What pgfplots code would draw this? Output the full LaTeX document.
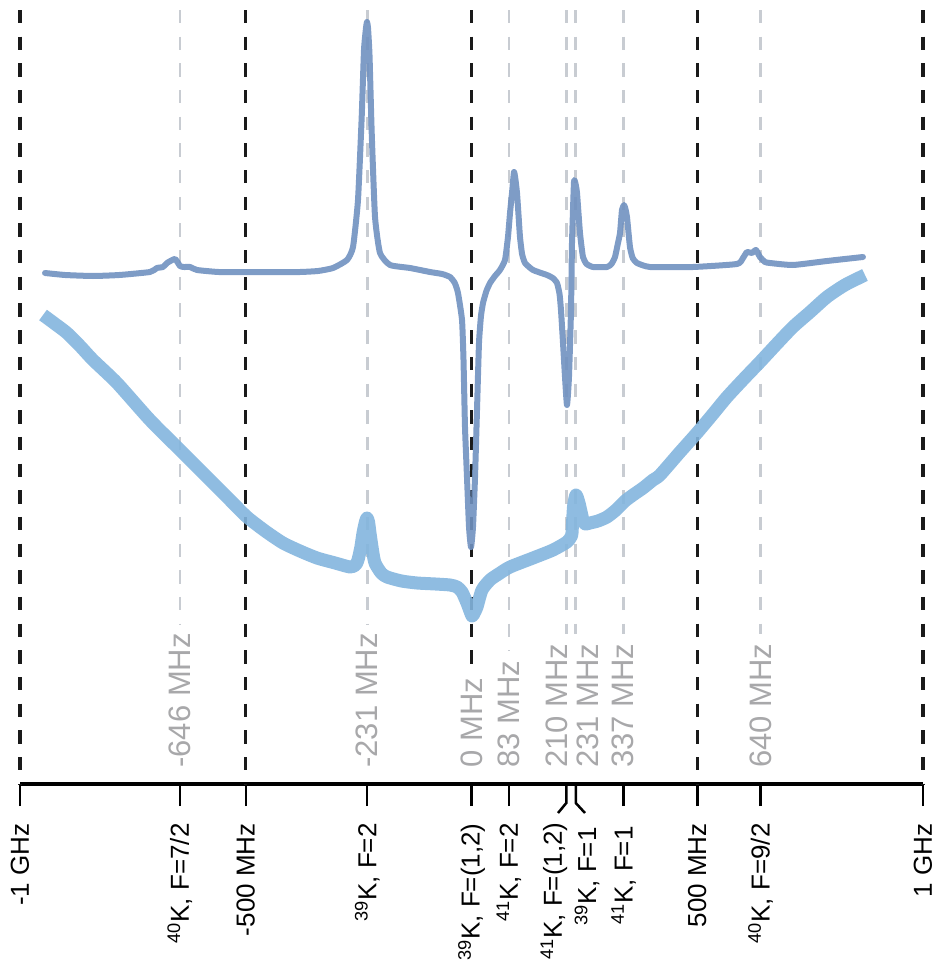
\documentclass[border=0pt]{standalone}
\usepackage{fontspec}
\setmainfont{Liberation Sans}
\usepackage{pgfplots}
\usepackage{pgfplotstable}
\pgfplotsset{compat=1.18}

\definecolor{specdark}{RGB}{112,145,192}
\definecolor{speclight}{RGB}{131,181,222}
\definecolor{guidegray}{RGB}{200,204,210}
\definecolor{freqgray}{RGB}{168,168,170}
\definecolor{guideblack}{RGB}{26,26,26}

\tikzset{
  blackguide/.style={guideblack, line width=1.6pt, dash pattern=on 6.67pt off 6.67pt},
  grayguide/.style={guidegray, line width=1.3pt, dash pattern=on 6.67pt off 6.67pt},
  freqlabel/.style={rotate=90, anchor=west, inner sep=0pt, text=freqgray,
    font=\fontsize{15.5}{15.5}\selectfont},
  ticklab/.style={rotate=90, anchor=east, inner sep=0pt,
    font=\fontsize{13}{13}\selectfont},
}

% spectroscopy signal (upper trace), detuning in MHz vs. signal (arb. units)
\pgfplotstableread{
f s
-944.6 511
-900.0 509
-838.3 508
-780.0 509
-712.1 512
-696.6 516
-683.3 517
-674.4 521
-656.7 525
-645.6 518
-636.7 517
-623.5 517
-608.0 514
-560.0 512
-497.2 512
-440.0 512
-379.8 512
-340.0 513
-306.7 516
-275.7 524
-262.4 537
-251.4 584
-243.2 667
-238.1 734
-233.7 756
-231.4 762
-229.2 756
-225.9 729
-221.0 651
-213.7 567
-202.7 531
-180.5 519
-136.2 516
-91.9 512
-65.0 510
-47.6 507
-37.0 501
-29.9 491
-21.0 464
-17.7 424
-14.4 357
-10.0 307
-5.5 257
-1.1 237
3.3 257
7.8 307
12.2 374
16.6 441
21.0 468
25.5 481
33.0 493
41.0 501
52.0 508
63.1 514
74.2 524
80.8 547
85.5 572
89.7 591
94.1 612
97.5 604
100.8 591
104.0 570
107.4 547
112.0 530
118.5 521
136.2 514
167.2 509
180.0 506
189.4 501
195.0 490
198.2 474
202.7 441
207.1 407
211.5 379
215.9 407
220.4 474
222.6 541
227.0 602
230.5 600
233.7 591
240.3 551
246.9 527
255.0 520
269.1 517
300.1 517
310.0 520
317.8 527
324.0 540
328.9 551
333.3 574
337.8 579
341.0 575
344.4 567
351.0 537
357.0 526
366.5 521
395.3 517
490.6 517
588.0 520
601.3 526
610.2 532
621.2 531
630.1 534
638.9 527
650.0 522
661.1 521
712.0 519
787.3 523
867.0 527
}\errsignal

% absorption signal (lower trace)
\pgfplotstableread{
f s
-949.0 469
-922.0 460
-895.9 451
-867.0 438
-838.3 424
-785.1 401
-712.1 364
-645.6 334
-585.8 307
-535.0 284
-497.2 267
-457.0 253
-417.5 241
-380.0 233
-342.2 226
-302.0 221
-269.1 217
-257.0 219
-251.4 224
-245.0 237
-240.3 251
-235.0 262
-231.4 266
-228.0 262
-224.8 251
-219.0 233
-213.7 221
-200.0 211
-187.1 207
-155.0 203
-120.7 201
-80.0 200
-47.6 199
-32.0 197
-21.0 192
-10.0 181
1.1 168
6.0 171
12.2 177
23.3 194
41.0 204
60.0 210
85.3 217
136.2 226
180.5 234
211.5 242
220.0 247
222.6 251
225.9 277
231.4 289
238.1 281
246.9 264
252.0 260
262.4 261
280.0 263
300.1 267
320.0 274
340.0 283
357.7 289
380.0 296
402.0 304
417.5 309
460.0 331
499.4 351
533.0 369
565.9 387
605.0 406
639.0 422
676.0 440
712.0 457
750.0 472
787.3 487
827.0 499
871.5 509
}\abssignal

\begin{document}
\begin{tikzpicture}
\begin{axis}[
  scale only axis,
  width=451.5pt, height=392pt,
  xmin=-1000, xmax=1000, ymin=0, ymax=784,
  clip=false,
  axis x line=bottom,
  axis y line=none,
  x axis line style={line width=2.2pt, -, black},
  xtick={-1000,-646,-500,-231,0,83,337,500,640,1000},
  xticklabels={},
  tick align=outside,
  major tick length=11pt,
  every tick/.style={line width=1.25pt, black},
]
  % guide lines
  \draw[blackguide] (axis cs:-1000,774) -- (axis cs:-1000,0);
  \draw[blackguide] (axis cs:-500,774) -- (axis cs:-500,0);
  \draw[blackguide] (axis cs:500,774) -- (axis cs:500,0);
  \draw[blackguide] (axis cs:1000,774) -- (axis cs:1000,0);
  \draw[blackguide] (axis cs:0,774) -- (axis cs:0,116);
  \draw[grayguide] (axis cs:-646,774) -- (axis cs:-646,160);
  \draw[grayguide] (axis cs:-231,774) -- (axis cs:-231,160);
  \draw[grayguide] (axis cs:83,774) -- (axis cs:83,133);
  \draw[grayguide] (axis cs:210,774) -- (axis cs:210,150);
  \draw[grayguide] (axis cs:231,774) -- (axis cs:231,150);
  \draw[grayguide] (axis cs:337,774) -- (axis cs:337,150);
  \draw[grayguide] (axis cs:640,774) -- (axis cs:640,150);

  % transition frequencies
  \node[freqlabel] at (axis cs:-646,16) {-646 MHz};
  \node[freqlabel] at (axis cs:-231,16) {-231 MHz};
  \node[freqlabel] at (axis cs:0,16) {0 MHz};
  \node[freqlabel] at (axis cs:83,16) {83 MHz};
  \node[freqlabel] at (axis cs:189.4,16) {210 MHz};
  \node[freqlabel] at (axis cs:258.0,16) {231 MHz};
  \node[freqlabel] at (axis cs:335,16) {337 MHz};
  \node[freqlabel] at (axis cs:640,16) {640 MHz};

  % traces
  \addplot[speclight, line width=6.5pt, opacity=0.9, smooth, tension=0.4,
    line join=round, line cap=butt]
    table[x=f, y=s] {\abssignal};
  \addplot[specdark, line width=3pt, opacity=0.9, smooth, tension=0.3,
    line join=round, line cap=round]
    table[x=f, y=s] {\errsignal};

  % split ticks for the two close lines
  \draw[line width=1.25pt, black] (axis cs:210,0) -- (axis cs:210,-19) -- (axis cs:191.6,-29);
  \draw[line width=1.25pt, black] (axis cs:231,0) -- (axis cs:231,-19) -- (axis cs:251.4,-29);

  % tick labels
  \node[ticklab] at (axis cs:-1000,-39) {-1 GHz};
  \node[ticklab] at (axis cs:-646,-39) {\textsuperscript{40}K, F=7/2};
  \node[ticklab] at (axis cs:-500,-39) {-500 MHz};
  \node[ticklab] at (axis cs:-231,-39) {\textsuperscript{39}K, F=2};
  \node[ticklab] at (axis cs:0,-39) {\textsuperscript{39}K, F=(1,2)};
  \node[ticklab] at (axis cs:83,-39) {\textsuperscript{41}K, F=2};
  \node[ticklab] at (axis cs:182.7,-38) {\textsuperscript{41}K, F=(1,2)};
  \node[ticklab] at (axis cs:255.8,-43) {\textsuperscript{39}K, F=1};
  \node[ticklab] at (axis cs:337,-42) {\textsuperscript{41}K, F=1};
  \node[ticklab] at (axis cs:500,-39) {500 MHz};
  \node[ticklab] at (axis cs:640,-39) {\textsuperscript{40}K, F=9/2};
  \node[ticklab] at (axis cs:1000,-39) {1 GHz};

  \coordinate (bbA) at (axis cs:-1044.3,-182);
  \coordinate (bbB) at (axis cs:1031,784);
\end{axis}
\pgfresetboundingbox
\path[use as bounding box] (bbA) rectangle (bbB);
\end{tikzpicture}
\end{document}
